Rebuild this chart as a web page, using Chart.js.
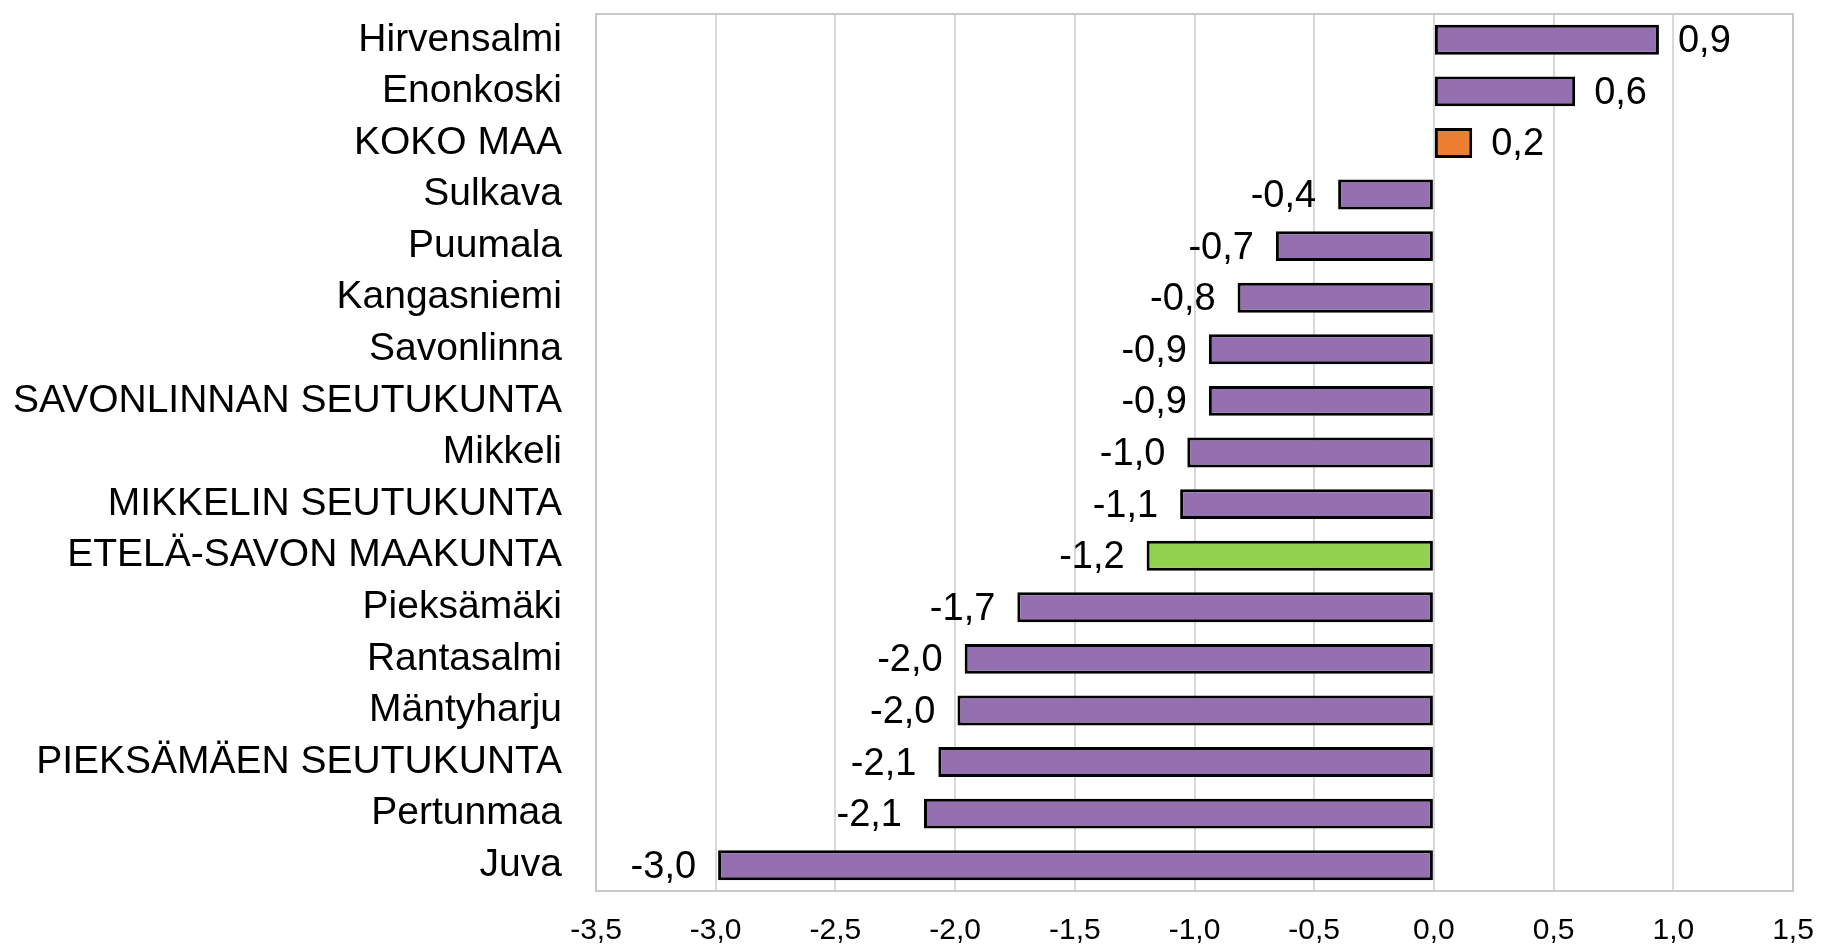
<!DOCTYPE html>
<html lang="fi">
<head>
    <meta charset="UTF-8">
    <title>Muutos</title>
    <style>
        body {
            margin: 0;
            padding: 0;
            background-color: #fff;
        }
        #wrap {
            width: 1822px;
            height: 947px;
        }
    </style>
</head>
<body>
    <div id="wrap">
        <canvas id="bar-chart"></canvas>
    </div>

    <script src="https://cdn.jsdelivr.net/npm/chart.js"></script>
    <script>
        // Alueet ja arvot
        var categories = ['Hirvensalmi', 'Enonkoski', 'KOKO MAA', 'Sulkava', 'Puumala', 'Kangasniemi',
            'Savonlinna', 'SAVONLINNAN SEUTUKUNTA', 'Mikkeli', 'MIKKELIN SEUTUKUNTA',
            'ETELÄ-SAVON MAAKUNTA', 'Pieksämäki', 'Rantasalmi', 'Mäntyharju',
            'PIEKSÄMÄEN SEUTUKUNTA', 'Pertunmaa', 'Juva'];
        var values = [0.94, 0.59, 0.16, -0.40, -0.66, -0.82, -0.94, -0.94, -1.03, -1.06,
            -1.20, -1.74, -1.96, -1.99, -2.07, -2.13, -2.99];
        var xTicks = [-3.5, -3.0, -2.5, -2.0, -1.5, -1.0, -0.5, 0.0, 0.5, 1.0, 1.5];

        var purple = '#9470b0';
        var orange = '#ed7d31';
        var green = '#92d050';
        var fontFam = '"Liberation Sans", Arial, sans-serif';

        var barColors = categories.map(function(c) {
            if (c === 'KOKO MAA') return orange;
            if (c === 'ETELÄ-SAVON MAAKUNTA') return green;
            return purple;
        });

        function fmt(v) {
            return v.toFixed(1).replace('.', ',');
        }

        // Arvot palkkien päihin + kehys
        var labelPlugin = {
            id: 'barLabels',
            beforeDraw: function(chart) {
                var ctx = chart.ctx;
                ctx.save();
                ctx.fillStyle = '#fff';
                ctx.fillRect(0, 0, chart.width, chart.height);
                ctx.restore();
            },
            afterDatasetsDraw: function(chart) {
                var ctx = chart.ctx;
                var meta = chart.getDatasetMeta(0);
                ctx.save();
                ctx.font = '38px ' + fontFam;
                ctx.fillStyle = '#000';
                ctx.textBaseline = 'middle';
                meta.data.forEach(function(bar, i) {
                    var v = values[i];
                    if (v >= 0) {
                        ctx.textAlign = 'left';
                        ctx.fillText(fmt(v), bar.x + 19, bar.y + 2);
                    } else {
                        ctx.textAlign = 'right';
                        ctx.fillText(fmt(v), bar.x - 22, bar.y + 2);
                    }
                });
                var a = chart.chartArea;
                ctx.strokeStyle = '#c8c8c8';
                ctx.lineWidth = 2;
                ctx.strokeRect(a.left, a.top, a.right - a.left, a.bottom - a.top);
                ctx.restore();
            }
        };

        var ctxBar = document.getElementById('bar-chart').getContext('2d');
        new Chart(ctxBar, {
            type: 'bar',
            data: {
                labels: categories,
                datasets: [{
                    data: values,
                    backgroundColor: barColors,
                    borderColor: '#000',
                    borderWidth: 3,
                    borderSkipped: false,
                    barPercentage: 0.58,
                    categoryPercentage: 1
                }]
            },
            options: {
                indexAxis: 'y',
                responsive: true,
                maintainAspectRatio: false,
                animation: false,
                layout: {
                    padding: { top: 14, right: 29, bottom: 0, left: 0 }
                },
                plugins: {
                    legend: { display: false },
                    tooltip: { enabled: false }
                },
                scales: {
                    x: {
                        min: xTicks[0],
                        max: xTicks[xTicks.length - 1],
                        afterBuildTicks: function(scale) {
                            scale.ticks = xTicks.map(function(v) { return { value: v }; });
                        },
                        afterFit: function(scale) {
                            scale.height = 56;
                            scale.paddingLeft = 0;
                            scale.paddingRight = 0;
                        },
                        grid: {
                            color: '#d9d9d9',
                            lineWidth: 2,
                            drawTicks: false
                        },
                        border: { display: false },
                        ticks: {
                            padding: 22,
                            color: '#000',
                            maxRotation: 0,
                            font: { family: fontFam, size: 30 },
                            callback: function(v) { return fmt(v); }
                        }
                    },
                    y: {
                        afterFit: function(scale) {
                            scale.width = 596;
                            scale.paddingTop = 0;
                            scale.paddingBottom = 0;
                        },
                        grid: { display: false },
                        border: { display: false },
                        ticks: {
                            padding: 26,
                            color: '#000',
                            autoSkip: false,
                            font: { family: fontFam, size: 39 }
                        }
                    }
                }
            },
            plugins: [labelPlugin]
        });
    </script>
</body>
</html>
